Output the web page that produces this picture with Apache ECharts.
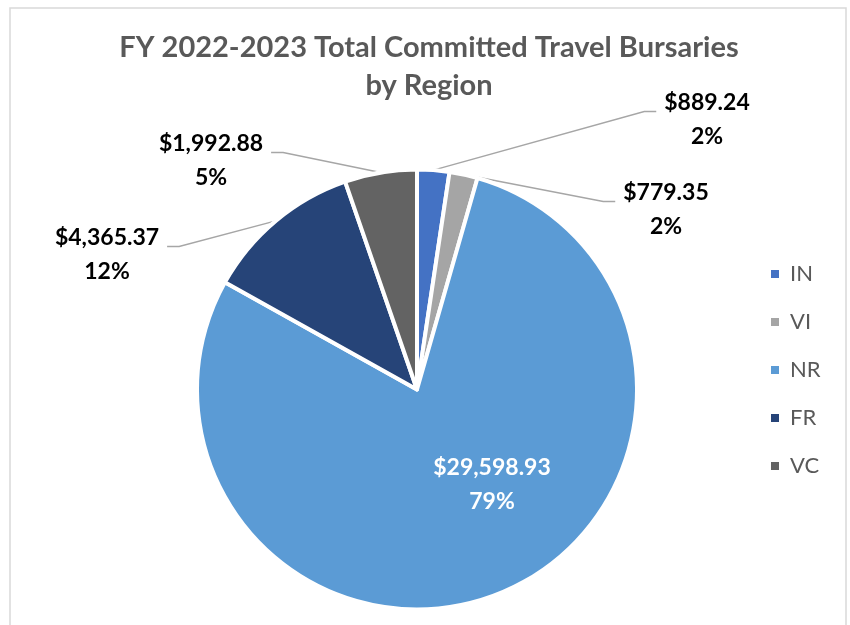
<!DOCTYPE html>
<html>
<head>
<meta charset="utf-8">
<script src="https://cdn.jsdelivr.net/npm/echarts@6/dist/echarts.min.js"></script>
<style>
  html, body { margin: 0; padding: 0; background: #fff; }
  #chart { width: 850px; height: 625px; }
</style>
</head>
<body>
<div id="chart"></div>
<script>
// ---- Data ----
const categories = ['IN', 'VI', 'NR', 'FR', 'VC'];
const values = [889.24, 779.35, 29598.93, 4365.37, 1992.88];
const titleLines = ['FY 2022-2023 Total Committed Travel Bursaries', 'by Region'];

// ---- Styles / layout (kept apart from data) ----
const colors = ['#4472C4', '#A5A5A5', '#5B9BD5', '#264478', '#636363'];
const FONT = 'Lato, "Open Sans", sans-serif';
const CENTER = [417, 389.5];
// label block centres (x, y) for each slice's label, in category order
const labelPos = [[707, 120], [666, 210], [492, 485], [107, 255], [211, 161]];

const chart = echarts.init(document.getElementById('chart'), null, { renderer: 'canvas' });

const data = categories.map((name, i) => {
  const item = { name: name, value: values[i], itemStyle: { color: colors[i] } };
  if (name === 'NR') {
    item.label = { position: 'inside', color: '#FFFFFF' };
    item.labelLine = { show: false };
  }
  return item;
});

const option = {
  animation: false,
  backgroundColor: '#FFFFFF',
  graphic: [{
    type: 'rect',
    shape: { x: 10, y: 8, width: 836, height: 640 },
    style: { fill: 'none', stroke: '#D9D9D9', lineWidth: 1.5 },
    silent: true,
    z: -10
  }],
  title: {
    text: titleLines.join('\n'),
    left: 429,
    top: 29,
    textAlign: 'center',
    padding: 0,
    textStyle: {
      fontFamily: FONT,
      fontSize: 29,
      fontWeight: 'bold',
      color: '#595959',
      lineHeight: 38
    }
  },
  legend: {
    orient: 'vertical',
    left: 769,
    top: 263,
    padding: 0,
    itemGap: 26,
    itemWidth: 10,
    itemHeight: 10,
    icon: 'rect',
    data: categories,
    textStyle: {
      fontFamily: FONT,
      fontSize: 22,
      color: '#595959',
      lineHeight: 22,
      padding: [0, 0, 0, 5]
    }
  },
  series: [{
    type: 'pie',
    center: CENTER,
    radius: 220,
    startAngle: 90,
    clockwise: true,
    avoidLabelOverlap: false,
    data: data,
    itemStyle: { borderColor: '#FFFFFF', borderWidth: 4 },
    emphasis: { disabled: true },
    label: {
      show: true,
      position: 'outside',
      fontFamily: FONT,
      fontSize: 23,
      fontWeight: 'bold',
      color: '#000000',
      lineHeight: 34,
      align: 'center',
      formatter: function (p) {
        return '$' + p.value.toLocaleString('en-US', { minimumFractionDigits: 2, maximumFractionDigits: 2 }) +
          '\n' + Math.round(p.percent) + '%';
      }
    },
    labelLine: {
      show: true,
      length: 20,
      length2: 10,
      lineStyle: { color: '#A6A6A6', width: 1.5 }
    },
    labelLayout: function (p) {
      const pos = labelPos[p.dataIndex];
      const out = { x: pos[0], y: pos[1], align: 'center', verticalAlign: 'middle' };
      if (p.labelLinePoints && p.labelLinePoints.length) {
        const w = p.labelRect.width;
        const side = pos[0] > CENTER[0] ? 1 : -1;
        const ly = pos[1] - 8.5;
        const endX = pos[0] - side * (w / 2 + 8);
        const elbowX = endX - side * 12;
        out.labelLinePoints = [p.labelLinePoints[0], [elbowX, ly], [endX, ly]];
      }
      return out;
    }
  }]
};

chart.setOption(option);
</script>
</body>
</html>
